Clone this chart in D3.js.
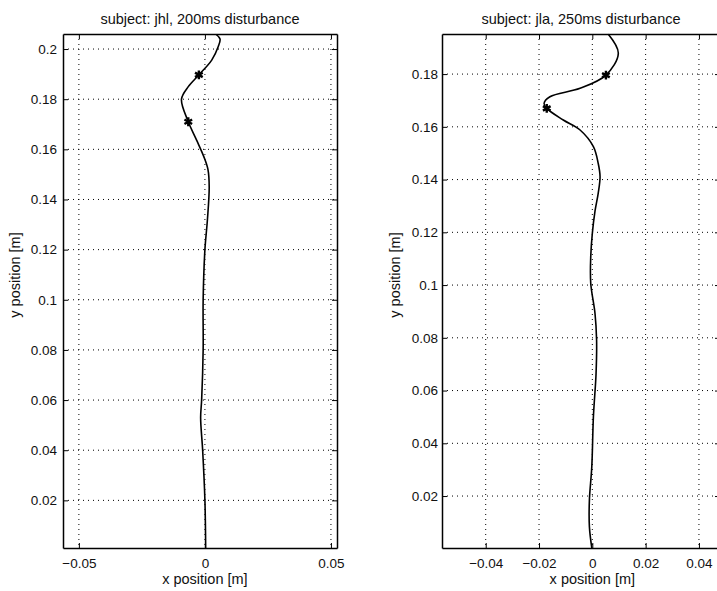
<!DOCTYPE html>
<html>
<head>
<meta charset="utf-8">
<script src="https://cdn.jsdelivr.net/npm/d3@7"></script>
<style>
  body { margin: 0; background: #fff; }
  svg { display: block; font-family: "Liberation Sans", Arial, sans-serif; }
  .grid line { stroke: #000; stroke-width: 1; stroke-dasharray: 1,4; }
</style>
</head>
<body>
<div class="chart"></div>
<script>
// left panel: subject jhl
const titleLeft = "subject: jhl, 200ms disturbance";
const xTicksLeft = [-0.05, 0, 0.05];
const yTicksLeft = [0.02, 0.04, 0.06, 0.08, 0.1, 0.12, 0.14, 0.16, 0.18, 0.2];
const pathLeftX = [0.0003, 0.0, -0.0009, -0.0017, -0.0013, -0.0007, -0.0007, 0.0, 0.0010, 0.0017, 0.0012, -0.0004, -0.0033, -0.0066, -0.0093, -0.0066, -0.0024, 0.0027, 0.0053, 0.0060, 0.0045];
const pathLeftY = [0.001, 0.02, 0.04, 0.053, 0.06, 0.08, 0.10, 0.12, 0.132, 0.145, 0.152, 0.157, 0.1637, 0.171, 0.180, 0.185, 0.1897, 0.1956, 0.201, 0.204, 0.2058];
const markLeftX = [-0.0066, -0.0024];
const markLeftY = [0.171, 0.1897];

// right panel: subject jla
const titleRight = "subject: jla, 250ms disturbance";
const xTicksRight = [-0.04, -0.02, 0, 0.02, 0.04];
const yTicksRight = [0.02, 0.04, 0.06, 0.08, 0.1, 0.12, 0.14, 0.16, 0.18];
const pathRightX = [-0.0002, -0.0011, -0.0011, -0.0002, 0.0004, 0.0014, 0.0016, 0.0010, -0.0006, -0.0006, 0.0, 0.0010, 0.0022, 0.0029, 0.0022, 0.0004, -0.0046, -0.0109, -0.0171, -0.0181, -0.0159, -0.0046, 0.0051, 0.00975, 0.0060];
const pathRightY = [0.0003, 0.0084, 0.0185, 0.0311, 0.05, 0.0665, 0.0792, 0.0893, 0.1007, 0.1107, 0.1196, 0.128, 0.1348, 0.1411, 0.1462, 0.1525, 0.1588, 0.1626, 0.167, 0.1689, 0.1714, 0.1746, 0.1796, 0.1879, 0.1951];
const markRightX = [-0.0171, 0.0051];
const markRightY = [0.167, 0.1796];

const svg = d3.select(".chart")
  .append("svg")
  .attr("width", 717)
  .attr("height", 591);

svg.append("rect").attr("width", 717).attr("height", 591).attr("fill", "#fff");

const fmt = function(v){
  if (v === 0) return "0";
  return (v < 0 ? "\u2212" : "") + String(+Math.abs(v).toFixed(3));
};

function drawPanel(p){
  const w = p.right - p.left;
  const h = p.bottom - p.top;
  const g = svg.append("g")
    .attr("transform", "translate(" + p.left + "," + p.top + ")");

  const xScale = d3.scaleLinear().domain(p.xDomain).range([0, w]);
  const yScale = d3.scaleLinear().domain(p.yDomain).range([h, 0]);

  // dotted grid
  const grid = g.append("g").attr("class", "grid");
  grid.selectAll(".gx")
    .data(p.xTicks)
    .enter()
    .append("line")
    .attr("x1", d => xScale(d)).attr("x2", d => xScale(d))
    .attr("y1", 0).attr("y2", h);
  grid.selectAll(".gy")
    .data(p.yTicks)
    .enter()
    .append("line")
    .attr("y1", d => yScale(d)).attr("y2", d => yScale(d))
    .attr("x1", 0).attr("x2", w);

  // axes, ticks pointing inward like matlab
  const axB = g.append("g")
    .attr("transform", "translate(0," + h + ")")
    .call(d3.axisBottom(xScale).tickValues(p.xTicks).tickSizeInner(-5).tickSizeOuter(0).tickPadding(10).tickFormat(fmt));
  const axL = g.append("g")
    .call(d3.axisLeft(yScale).tickValues(p.yTicks).tickSizeInner(-5).tickSizeOuter(0).tickPadding(p.yPad).tickFormat(fmt));
  const axT = g.append("g")
    .call(d3.axisTop(xScale).tickValues(p.xTicks).tickSizeInner(-5).tickSizeOuter(0).tickFormat(""));
  const axR = g.append("g")
    .attr("transform", "translate(" + w + ",0)")
    .call(d3.axisRight(yScale).tickValues(p.yTicks).tickSizeInner(-5).tickSizeOuter(0).tickFormat(""));

  [axB, axL, axT, axR].forEach(function(a){
    a.select(".domain").attr("stroke", "#000").attr("stroke-width", 1.5);
    a.selectAll(".tick line").attr("stroke", "#000");
    a.selectAll("text")
      .attr("fill", "#111")
      .style("font-size", "13.5px")
      .style("font-family", "'Liberation Sans', Arial, sans-serif");
  });

  // trajectory
  const pts = p.xs.map((x, i) => [x, p.ys[i]]);
  g.append("path")
    .datum(pts)
    .attr("fill", "none")
    .attr("stroke", "#000")
    .attr("stroke-width", 1.6)
    .attr("d", d3.line()
      .x(d => xScale(d[0]))
      .y(d => yScale(d[1]))
      .curve(d3.curveCatmullRom.alpha(0.5)));

  // asterisk markers
  const marks = p.mx.map((x, i) => [x, p.my[i]]);
  g.selectAll(".mark")
    .data(marks)
    .enter()
    .append("path")
    .attr("class", "mark")
    .attr("transform", d => "translate(" + xScale(d[0]) + "," + yScale(d[1]) + ")")
    .attr("d", d3.symbol().type(d3.symbolAsterisk).size(55))
    .attr("fill", "none")
    .attr("stroke", "#000")
    .attr("stroke-width", 2.4);

  // title and labels
  svg.append("text")
    .attr("x", p.left + w / 2)
    .attr("y", 24)
    .attr("text-anchor", "middle")
    .style("font-size", "14.5px")
    .attr("fill", "#111")
    .text(p.title);
  svg.append("text")
    .attr("x", p.left + xScale(0))
    .attr("y", 584)
    .attr("text-anchor", "middle")
    .style("font-size", "14.5px")
    .attr("fill", "#111")
    .text("x position [m]");
  svg.append("text")
    .attr("transform", "translate(" + p.yLabelX + ",275) rotate(-90)")
    .attr("text-anchor", "middle")
    .style("font-size", "14.5px")
    .attr("fill", "#111")
    .text("y position [m]");
}

drawPanel({
  left: 63, right: 337, top: 34, bottom: 548,
  xDomain: [-0.0563, 0.0524], yDomain: [0.001, 0.206],
  xTicks: xTicksLeft, yTicks: yTicksLeft,
  xs: pathLeftX, ys: pathLeftY, mx: markLeftX, my: markLeftY,
  title: titleLeft, yLabelX: 20, yPad: 6
});

drawPanel({
  left: 442, right: 720, top: 34, bottom: 548,
  xDomain: [-0.0564, 0.0479], yDomain: [0.0003, 0.1952],
  xTicks: xTicksRight, yTicks: yTicksRight,
  xs: pathRightX, ys: pathRightY, mx: markRightX, my: markRightY,
  title: titleRight, yLabelX: 400, yPad: 4
});
</script>
</body>
</html>
